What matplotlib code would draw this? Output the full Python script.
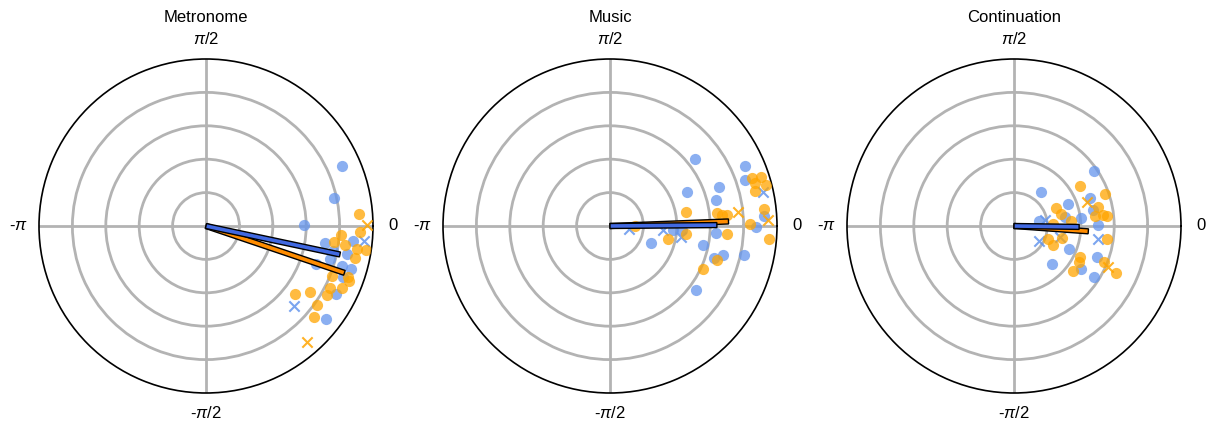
import numpy as np
import matplotlib
matplotlib.use("Agg")
import matplotlib.pyplot as plt
from matplotlib.patches import Rectangle

plt.rcParams['font.family'] = ['Liberation Sans', 'DejaVu Sans']
plt.rcParams['mathtext.fontset'] = 'custom'
plt.rcParams['mathtext.rm'] = 'Liberation Sans'
plt.rcParams['mathtext.it'] = 'Liberation Sans:italic'

TITLES = ["Metronome", "Music", "Continuation"]
THETA_TICKS = [0, 90, 180, 270]
THETA_LABELS = ["0", r"$\pi/2$", r"-$\pi$", r"-$\pi/2$"]

# (phase in degrees, vector length)
metronome_blue_dots = [(23.7, 0.89), (12.5, 0.785), (0.4, 0.587), (-8, 0.72), (-5.8, 0.886),
                       (-11.4, 0.86), (-11.1, 0.777), (-15, 0.769), (-19.1, 0.70), (-16.4, 0.847),
                       (-16.4, 0.905), (-20.4, 0.877), (-27.6, 0.876), (-37.9, 0.91)]
metronome_blue_x = [(-5.4, 0.95), (-42.3, 0.712)]
metronome_orange_dots = [(4.6, 0.919), (-2.2, 0.925), (-3.9, 0.81), (-7.1, 0.771), (-7.9, 0.84),
                         (-8.8, 0.913), (-8.5, 0.969), (-12.2, 0.913), (-21.7, 0.81), (-19.7, 0.905),
                         (-21, 0.919), (-24.3, 0.896), (-26.5, 0.829), (-29.8, 0.832), (-32.3, 0.737),
                         (-37.4, 0.673), (-35.4, 0.817), (-40.1, 0.846)]
metronome_orange_x = [(0.2, 0.966), (-49, 0.918)]

music_blue_dots = [(38, 0.648), (24.1, 0.884), (19, 0.853), (19.8, 0.696), (23.6, 0.503),
                   (13.9, 0.654), (3.8, 0.926), (-0.5, 0.874), (-3.6, 0.38), (-3.4, 0.432),
                   (-3.6, 0.636), (-22, 0.267), (-11.5, 0.568), (-14.4, 0.699), (-17.2, 0.654),
                   (-12.2, 0.821), (-36.6, 0.643)]
music_blue_x = [(12.6, 0.941), (-8.2, 0.113), (-4.7, 0.317), (-9.1, 0.429)]
music_orange_dots = [(18.5, 0.899), (17.9, 0.95), (16.4, 0.905), (14.9, 0.965), (13.7, 0.894),
                     (10.4, 0.465), (7.1, 0.644), (5.5, 0.672), (5.2, 0.702), (6.2, 0.929),
                     (0.8, 0.837), (-6.2, 0.46), (-12.9, 0.358), (-4, 0.704), (-4.6, 0.957),
                     (-17.6, 0.674), (-25, 0.613), (0.7, 0.148)]
music_orange_x = [(6.3, 0.769), (2.2, 0.949)]

continuation_blue_dots = [(34.3, 0.582), (52.1, 0.26), (20, 0.484), (22, 0.347), (11.4, 0.484),
                          (10.3, 0.312), (6.5, 0.405), (11.2, 0.154), (0.5, 0.505), (-22.8, 0.359),
                          (-45.2, 0.32), (-20.4, 0.528), (-32.7, 0.477), (-32.3, 0.569)]
continuation_blue_x = [(11, 0.189), (-30.2, 0.175), (-13.8, 0.284), (-9, 0.507)]
continuation_orange_dots = [(31.2, 0.462), (19.2, 0.577), (22.8, 0.273), (14.1, 0.288), (12.9, 0.518),
                            (7, 0.489), (6.8, 0.539), (6.1, 0.562), (4.7, 0.344), (2.9, 0.236),
                            (-14.5, 0.295), (-21.2, 0.22), (-25.8, 0.257), (-8.2, 0.561),
                            (-24.9, 0.436), (-29.1, 0.447), (-37.3, 0.442), (-21.9, 0.583),
                            (-24.6, 0.672)]
continuation_orange_x = [(18.3, 0.462), (-23.7, 0.617)]

# mean vectors (degrees, length)
blue_means = [(-12, 0.82), (0.5, 0.64), (-0.8, 0.39)]
orange_means = [(-18.7, 0.875), (2.2, 0.71), (-4.1, 0.446)]

panels = [
    (metronome_blue_dots, metronome_blue_x, metronome_orange_dots, metronome_orange_x),
    (music_blue_dots, music_blue_x, music_orange_dots, music_orange_x),
    (continuation_blue_dots, continuation_blue_x, continuation_orange_dots, continuation_orange_x),
]

DOT_BLUE = "cornflowerblue"
DOT_ORANGE = "orange"
BAR_BLUE = "royalblue"
BAR_ORANGE = "darkorange"


def polar_pts(pairs):
    a = np.array(pairs, dtype=float)
    return np.deg2rad(a[:, 0]), a[:, 1]


def mean_bar(ax, deg, r, color):
    # constant-thickness bar from the origin, drawn in the axes' cartesian r-units
    cart = ax.transProjectionAffine + ax.transWedge + ax.transAxes
    h = 0.03
    ax.add_patch(Rectangle((0, -h / 2), r, h, angle=deg, rotation_point=(0, 0),
                           transform=cart, facecolor=color, edgecolor="black",
                           linewidth=1.0, zorder=5))


fig = plt.figure(figsize=(12.13, 4.25), dpi=100)
W, H = 1213, 425
R_PX = 167
centers_x = [206, 610, 1014]
center_y = 226

for i, (bd, bx, od, ox) in enumerate(panels):
    left = (centers_x[i] - R_PX) / W
    bottom = (H - center_y - R_PX) / H
    ax = fig.add_axes([left, bottom, 2 * R_PX / W, 2 * R_PX / H], projection="polar")
    ax.set_axisbelow(True)

    t, r = polar_pts(bd)
    ax.scatter(t, r, s=65, color=DOT_BLUE, alpha=0.75, linewidths=0, zorder=2)
    t, r = polar_pts(bx)
    ax.scatter(t, r, s=55, color=DOT_BLUE, alpha=0.85, marker="x", linewidths=1.5, zorder=2)
    t, r = polar_pts(od)
    ax.scatter(t, r, s=65, color=DOT_ORANGE, alpha=0.75, linewidths=0, zorder=3)
    t, r = polar_pts(ox)
    ax.scatter(t, r, s=55, color=DOT_ORANGE, alpha=0.85, marker="x", linewidths=1.5, zorder=3)

    ax.set_rlim(0, 1)
    mean_bar(ax, orange_means[i][0], orange_means[i][1], BAR_ORANGE)
    mean_bar(ax, blue_means[i][0], blue_means[i][1], BAR_BLUE)

    ax.set_rgrids([0.2, 0.4, 0.6, 0.8], labels=[])
    ax.set_thetagrids(THETA_TICKS, labels=THETA_LABELS, fontsize=12)
    ax.grid(True, color="#b3b3b3", linewidth=2)
    ax.tick_params(axis="x", pad=4)
    ax.spines["polar"].set_color("black")
    ax.spines["polar"].set_linewidth(1.2)
    ax.text(0.5, 1 + 42 / (2 * R_PX), TITLES[i], transform=ax.transAxes,
            ha="center", va="center", fontsize=12)

fig.savefig("out.png", dpi=100)
